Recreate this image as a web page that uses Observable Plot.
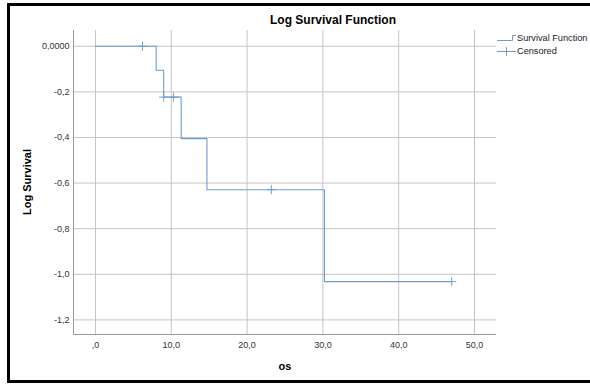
<!DOCTYPE html>
<html><head><meta charset="utf-8">
<script src="https://cdn.jsdelivr.net/npm/d3@7"></script>
<script src="https://cdn.jsdelivr.net/npm/@observablehq/plot@0.6"></script>
<style>
html,body{margin:0;padding:0;background:#fff;}
#wrap{position:relative;width:590px;height:385px;overflow:hidden;font-family:"Liberation Sans",Arial,sans-serif;}
#frame{position:absolute;left:7px;top:3px;width:600px;height:374px;border:3px solid #000;box-sizing:content-box;}
#chart{position:absolute;left:0;top:0;}
.t{position:absolute;white-space:nowrap;color:#000;}
</style></head>
<body>
<div id="wrap">
  <div id="frame"></div>
  <div id="chart"></div>
  <div class="t" id="title" style="left:333px;top:13px;transform:translateX(-50%);font-weight:bold;font-size:12px;">Log Survival Function</div>
  <div class="t" id="ylab" style="left:27px;top:182px;transform:translate(-50%,-50%) rotate(-90deg);font-weight:bold;font-size:11px;">Log Survival</div>
  <div class="t" id="xlab" style="left:285px;top:360px;transform:translateX(-50%);font-weight:bold;font-size:11px;">os</div>
  <div class="t" style="left:517px;top:33px;font-size:9.2px;color:#222;">Survival Function</div>
  <div class="t" style="left:517px;top:46px;font-size:9.2px;color:#222;">Censored</div>
  <svg style="position:absolute;left:0;top:0;" width="590" height="385">
    <path d="M497,40.5 H512.5 V35.5 H516" fill="none" stroke="#6d9dcf" stroke-width="1"/>
    <path d="M497,51.5 H516 M506.5,47 V56" fill="none" stroke="#6d9dcf" stroke-width="1"/>
  </svg>
</div>
<script>
const survTimes = [0, 8.0, 9.0, 11.3, 14.7, 30.2, 47.0];
const survLogS  = [0, -0.105, -0.223, -0.405, -0.629, -1.032, -1.032];
const censTimes = [6.2, 9.0, 10.3, 23.2, 47.0];
const censLogS  = [0, -0.223, -0.223, -0.629, -1.032];
const xTicks = [0, 10, 20, 30, 40, 50];
const yTicks = [0, -0.2, -0.4, -0.6, -0.8, -1.0, -1.2];

const surv = survTimes.map((t, i) => ({t, s: survLogS[i]}));
const cens = censTimes.map((t, i) => ({t, s: censLogS[i]}));
const xDom = [-2.9, 52.9];
const yDom = [-1.264, 0.069];
const col = "#6d9dcf";
const fmtX = d => d === 0 ? ",0" : d.toFixed(1).replace(".", ",");
const fmtY = d => d === 0 ? "0,0000" : d.toFixed(1).replace(".", ",");

const chart = Plot.plot({
  width: 590, height: 385,
  marginLeft: 73, marginRight: 94, marginTop: 30, marginBottom: 51,
  style: {fontFamily: "Liberation Sans, Arial, sans-serif", fontSize: "9px", color: "#333", background: "transparent"},
  x: {domain: xDom, ticks: xTicks, tickFormat: fmtX, tickSize: 0, tickPadding: 7, label: null},
  y: {domain: yDom, ticks: yTicks, tickFormat: fmtY, tickSize: 0, tickPadding: 4, label: null},
  marks: [
    Plot.gridX(xTicks, {stroke: "#c4c4c4", strokeOpacity: 1}),
    Plot.gridY(yTicks, {stroke: "#c4c4c4", strokeOpacity: 1}),
    Plot.ruleX([xDom[0]], {stroke: "#9a9a9a"}),
    Plot.ruleY([yDom[0]], {stroke: "#9a9a9a"}),
    Plot.line(surv, {x: "t", y: "s", curve: "step-after", stroke: col, strokeWidth: 1.1}),
    Plot.dot(cens, {x: "t", y: "s", symbol: "plus", r: 3, stroke: col, strokeWidth: 1})
  ]
});
document.getElementById("chart").appendChild(chart);
</script>
</body></html>
